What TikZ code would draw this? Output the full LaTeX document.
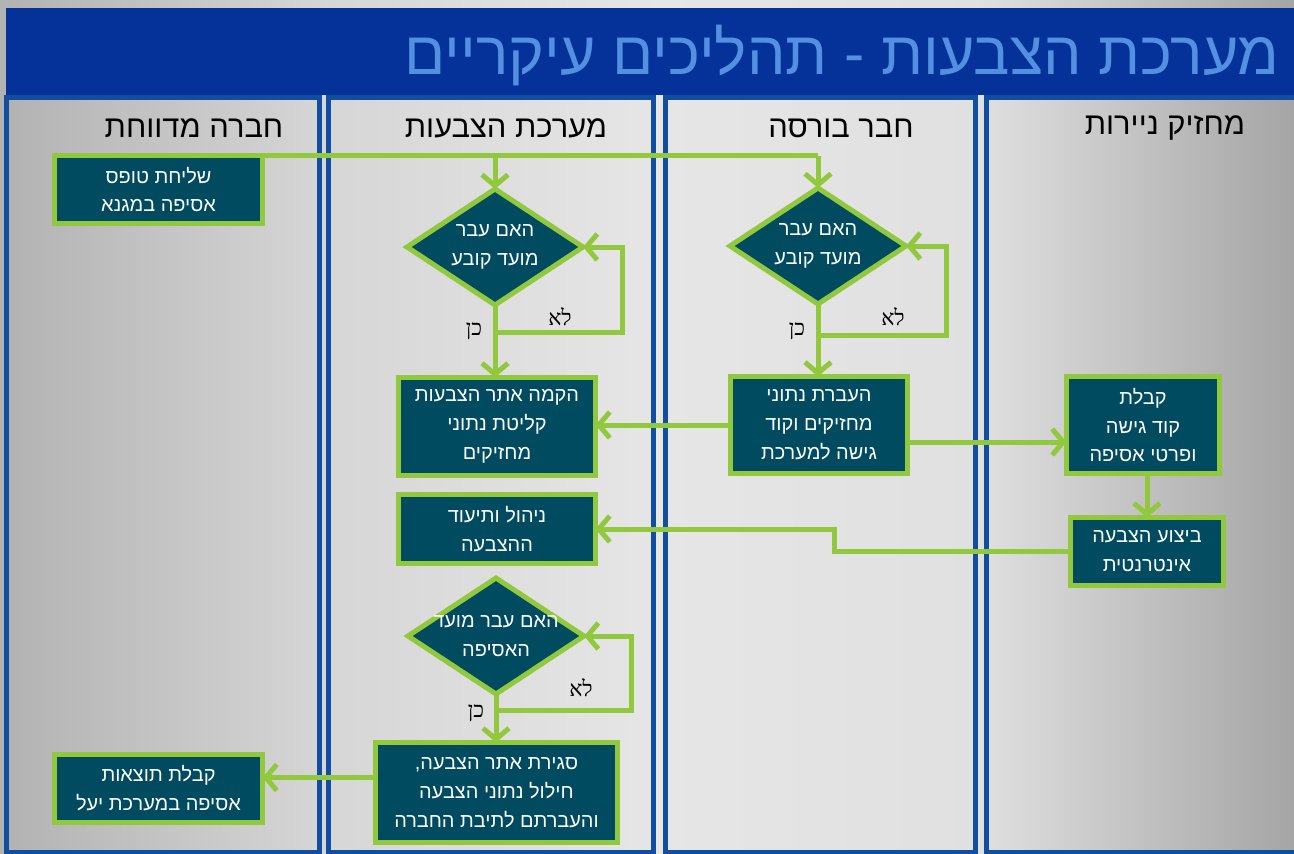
\documentclass[tikz,border=0pt]{standalone}
\usepackage{fontspec}
\usetikzlibrary{shapes.geometric,arrows.meta}
\TeXXeTstate=1
\newfontfamily\hebfont[Script=Hebrew]{Liberation Sans}
\newfontfamily\hebserif[Script=Hebrew]{Liberation Serif}
\newcommand{\hb}[1]{\beginR #1\endR}
\newcommand{\zb}[1]{\makebox[0pt]{\beginR #1\endR}}
\definecolor{boxfill}{RGB}{0,75,95}
\definecolor{grn}{RGB}{146,200,62}
\definecolor{laneblue}{RGB}{18,78,160}
\definecolor{barblue}{RGB}{4,50,152}
\definecolor{titletxt}{RGB}{84,144,226}
\definecolor{bgA}{RGB}{178,178,178}
\definecolor{bgB}{RGB}{214,214,214}
\definecolor{bgC}{RGB}{230,230,230}
\definecolor{bgD}{RGB}{224,224,224}
\definecolor{bgE}{RGB}{165,165,165}
\tikzset{
  lane/.style={draw=laneblue, line width=5bp},
  hdr/.style={font=\hebfont\fontsize{31}{34}\selectfont, text=black},
  box/.style={draw=grn, line width=5bp, fill=boxfill, text=white,
    font=\hebfont\fontsize{20}{29}\selectfont, align=center, inner sep=0pt, outer sep=0pt},
  dia/.style={diamond, draw=grn, line width=5bp, fill=boxfill, minimum width=176bp,
    minimum height=116bp, inner sep=0pt, outer sep=0pt, text=white,
    font=\hebfont\fontsize{20}{29}\selectfont, align=center},
  conn/.style={draw=grn, line width=5bp},
  arr/.style={conn, -{Straight Barb[length=11bp,width=26bp,line width=5bp]}},
  yn/.style={font=\hebserif\fontsize{22}{24}\selectfont, text=black}
}
\begin{document}
\begin{tikzpicture}[x=1bp,y=-1bp]
\useasboundingbox (0,0) rectangle (1294,854);
% background
\shade[left color=bgA, right color=bgB] (0,0) rectangle (325,854);
\shade[left color=bgB, right color=bgC] (325,0) rectangle (660,854);
\shade[left color=bgC, right color=bgD] (660,0) rectangle (980,854);
\shade[left color=bgD, right color=bgE] (980,0) rectangle (1294,854);
% title bar
\fill[barblue] (6,8) rectangle (1294,95);
\node[anchor=east, font=\hebfont\fontsize{61}{64}\selectfont, text=titletxt] (title) at (1283,56)
  {\hb{מערכת הצבעות - תהליכים עיקריים}};
% lanes
\draw[lane] (6.5,97.5) rectangle (319,852);
\draw[lane] (328,97.5) rectangle (653,852);
\draw[lane] (665,97.5) rectangle (975.5,852);
\draw[lane] (986.5,97.5) rectangle (1305,852);
\node[hdr] (h1) at (194,128) {\hb{חברה מדווחת}};
\node[hdr] (h2) at (506,128) {\hb{מערכת הצבעות}};
\node[hdr] (h3) at (841,128) {\hb{חבר בורסה}};
\node[hdr] (h4) at (1165,128) {\hb{מחזיק ניירות}};
% nodes
\node[box, minimum width=208bp, minimum height=68bp] (A1) at (158.5,189.5) {\hb{שליחת טופס}\\\hb{אסיפה במגנא}};
\node[dia] (D1) at (495,247) {\zb{האם עבר}\\\zb{מועד קובע}};
\node[dia] (D2) at (818,246) {\zb{האם עבר}\\\zb{מועד קובע}};
\node[box, minimum width=197bp, minimum height=98bp] (B1) at (497,426.5) {\hb{הקמה אתר הצבעות}\\\hb{קליטת נתוני}\\\hb{מחזיקים}};
\node[box, minimum width=177bp, minimum height=97bp] (C1) at (819,425) {\hb{העברת נתוני}\\\hb{מחזיקים וקוד}\\\hb{גישה למערכת}};
\node[box, minimum width=153bp, minimum height=97bp] (E1) at (1143,425) {\hb{קבלת}\\\hb{קוד גישה}\\\hb{ופרטי אסיפה}};
\node[box, minimum width=153bp, minimum height=68bp] (E2) at (1147,551.5) {\hb{ביצוע הצבעה}\\\hb{אינטרנטית}};
\node[box, minimum width=197bp, minimum height=69bp] (B2) at (497,529) {\hb{ניהול ותיעוד}\\\hb{ההצבעה}};
\node[dia] (D3) at (496,636) {\zb{האם עבר מועד}\\\zb{האסיפה}};
\node[box, minimum width=242bp, minimum height=100bp] (B3) at (496.5,792.5) {\hb{סגירת אתר הצבעה,}\\\hb{חילול נתוני הצבעה}\\\hb{והעברתם לתיבת החברה}};
\node[box, minimum width=208bp, minimum height=68bp] (A2) at (158.5,788.5) {\hb{קבלת תוצאות}\\\hb{אסיפה במערכת יעל}};
% connectors
\draw[conn] (A1.north west) -- (A1.north west -| D2.north);
\draw[arr] (A1.north -| D1.north) -- (D1.north);
\draw[arr] (A1.north -| D2.north) -- (D2.north);
% loop D1
\coordinate (k1) at (495,332);
\draw[conn] (D1.south) -- (k1);
\draw[arr] (k1) -- ++(127,0) |- (D1.east);
\draw[arr] (k1) -- (k1 |- B1.north);
\node[yn] (no1) at (560,317) {\hb{לא}};
\node[yn] (yes1) at (474,331) {\hb{כן}};
% loop D2
\coordinate (k2) at (818,335);
\draw[conn] (D2.south) -- (k2);
\draw[arr] (k2) -- ++(128,0) |- (D2.east);
\draw[arr] (k2) -- (k2 |- C1.north);
\node[yn] (no2) at (893,317) {\hb{לא}};
\node[yn] (yes2) at (797,331) {\hb{כן}};
% C1 -> B1, C1 -> E1
\draw[arr] (C1.west) -- (C1.west -| B1.east);
\draw[arr] ([yshift=-17bp]C1.east) -- ([yshift=-17bp]C1.east -| E1.west);
% E1 -> E2
\draw[arr] (E2.north |- E1.south) -- (E2.north);
% E2 -> B2
\draw[arr] (E2.west) -- ++(-236,0) |- (B2.east);
% loop D3
\coordinate (k3) at (496,710);
\draw[conn] (D3.south) -- (k3);
\draw[arr] (k3) -- ++(135,0) |- (D3.east);
\draw[arr] (k3) -- (k3 |- B3.north);
\node[yn] (no3) at (581,688) {\hb{לא}};
\node[yn] (yes3) at (476,713) {\hb{כן}};
% B3 -> A2
\draw[arr] ([yshift=15bp]B3.west) -- ([yshift=15bp]B3.west -| A2.east);
\end{tikzpicture}
\end{document}
